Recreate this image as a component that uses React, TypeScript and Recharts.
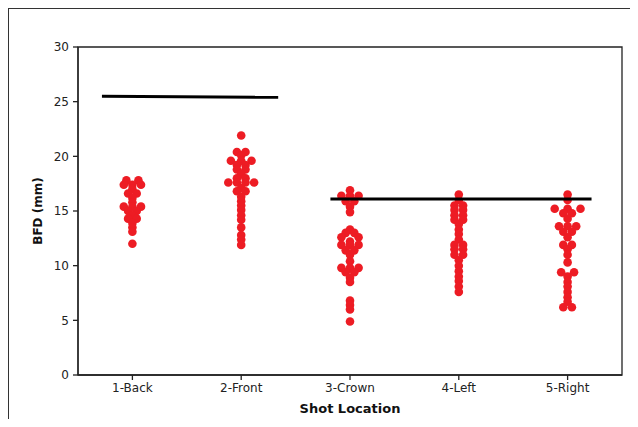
import React from 'react';
import { ScatterChart, Scatter, XAxis, YAxis, ReferenceArea } from 'recharts';

const categories = ['1-Back', '2-Front', '3-Crown', '4-Left', '5-Right'];
const yTicks = [0, 5, 10, 15, 20, 25, 30];

// BFD values (mm) per shot location, with swarm slot (ordinal side-by-side index)
const backValues = [17.8, 17.8, 17.4, 17.4, 17.4, 17.0, 16.6, 16.6, 16.2, 15.8, 15.4, 15.4, 15.4, 15.0, 15.0, 14.6, 14.3, 14.3, 13.9, 13.5, 13.1, 12.0];
const backSlots = [-1.4, 1.4, -2, 0, 2, 0, -1, 1, 0, 0, -2, 0, 2, -1, 1, 0, -1, 1, 0, 0, 0, 0];

const frontValues = [21.9, 20.4, 20.4, 20.1, 19.6, 19.6, 19.6, 19.2, 19.2, 18.8, 18.8, 18.4, 18.0, 18.0, 17.6, 17.6, 17.6, 17.6, 17.1, 16.8, 16.8, 16.3, 15.9, 15.5, 15.1, 14.6, 14.2, 13.5, 12.8, 12.4, 11.9];
const frontSlots = [0, -1, 1, 0, -2.4, 0, 2.4, -1, 1, -1, 1, 0, -1, 1, -3, -1, 1, 3, 0, -1, 1, 0, 0, 0, 0, 0, 0, 0, 0, 0, 0];

const crownValues = [16.9, 16.4, 16.4, 16.4, 15.9, 15.9, 15.4, 14.9, 13.3, 13.0, 13.0, 12.6, 12.6, 12.2, 11.9, 11.9, 11.9, 11.4, 11.4, 11.0, 10.4, 9.8, 9.8, 9.8, 9.4, 9.4, 8.9, 8.5, 6.8, 6.4, 6.0, 4.9];
const crownSlots = [0, -2, 0, 2, -1, 1, 0, 0, 0, -1, 1, -2, 2, 0, -2, 0, 2, -1, 1, 0, 0, -2, 0, 2, -1, 1, 0, 0, 0, 0, 0, 0];

const leftValues = [16.5, 16.0, 15.5, 15.5, 15.1, 15.1, 14.6, 14.6, 14.2, 14.2, 13.8, 13.3, 12.9, 12.4, 11.9, 11.9, 11.5, 11.5, 11.0, 11.0, 10.5, 10.0, 9.5, 9.0, 8.6, 8.1, 7.6];
const leftSlots = [0, 0, -1, 1, -1, 1, -1, 1, -1, 1, 0, 0, 0, 0, -1, 1, -1, 1, -1, 1, 0, 0, 0, 0, 0, 0, 0];

const rightValues = [16.5, 16.0, 15.2, 15.2, 15.2, 14.8, 14.8, 14.3, 13.6, 13.6, 13.6, 13.1, 13.1, 12.6, 11.9, 11.9, 11.5, 11.0, 10.3, 9.4, 9.4, 9.0, 8.5, 8.1, 7.6, 7.1, 6.7, 6.2, 6.2];
const rightSlots = [0, 0, -3, 0, 3, -1, 1, 0, -2, 0, 2, -1, 1, 0, -1, 1, 0, 0, 0, -1.5, 1.5, 0, 0, 0, 0, 0, 0, -1, 1];

// Mean lines (x in category units, y in mm)
const meanLineA = [{ x: 0.72, y: 25.5 }, { x: 2.34, y: 25.4 }];
const meanLineB = [{ x: 2.82, y: 16.1 }, { x: 5.22, y: 16.1 }];

const groups = [
  [backValues, backSlots],
  [frontValues, frontSlots],
  [crownValues, crownSlots],
  [leftValues, leftSlots],
  [rightValues, rightSlots],
];

const points = groups.flatMap(([vals, slots], gi) =>
  (vals as number[]).map((v, i) => ({ x: gi + 1, y: v, slot: (slots as number[])[i] }))
);

const SLOT_PX = 4.3;
const DOT_COLOR = '#ED1C24';
const FONT = '"DejaVu Sans", Verdana, sans-serif';
const AXIS = '#222';

const Dot = (props: any) => {
  const { cx, cy, payload } = props;
  if (cx == null || cy == null) return <g />;
  return <circle cx={cx + payload.slot * SLOT_PX} cy={cy} r={4.3} fill={DOT_COLOR} />;
};

const NoShape = () => <g />;

export default function App() {
  return (
    <div
      style={{
        width: 630,
        height: 411,
        borderTop: '1px solid #333',
        borderLeft: '1px solid #333',
        boxSizing: 'border-box',
        position: 'relative',
        overflow: 'hidden',
      }}
    >
      <ScatterChart width={629} height={410} margin={{ top: 38, right: 16, bottom: 0, left: 9 }}>
        <XAxis
          type="number"
          dataKey="x"
          domain={[0.5, 5.5]}
          ticks={[1, 2, 3, 4, 5]}
          tickFormatter={(v: number) => categories[v - 1]}
          height={44}
          stroke={AXIS}
          strokeWidth={1.3}
          tickSize={5}
          tickMargin={3}
          padding={{ left: 0, right: 0 }}
          tick={{ fill: '#222', fontSize: 12, fontFamily: FONT }}
          label={{
            value: 'Shot Location',
            position: 'insideBottom',
            offset: 6,
            style: { fill: '#111', fontSize: 13, fontWeight: 'bold', fontFamily: FONT },
          }}
        />
        <YAxis
          type="number"
          dataKey="y"
          domain={[0, 30]}
          ticks={yTicks}
          width={60}
          stroke={AXIS}
          strokeWidth={1.3}
          tickSize={5}
          tickMargin={4}
          tick={{ fill: '#222', fontSize: 12, fontFamily: FONT }}
          label={{
            value: 'BFD (mm)',
            angle: -90,
            position: 'insideLeft',
            offset: 20,
            style: { textAnchor: 'middle', fill: '#111', fontSize: 12, fontWeight: 'bold', fontFamily: FONT },
          }}
        />
        <ReferenceArea x1={0.5} x2={5.5} y1={0} y2={30} fill="none" fillOpacity={0} stroke={AXIS} strokeWidth={1.3} ifOverflow="visible" />
        <Scatter data={points} shape={Dot} isAnimationActive={false} />
        <Scatter data={meanLineA} line={{ stroke: '#000', strokeWidth: 3 }} shape={NoShape} isAnimationActive={false} />
        <Scatter data={meanLineB} line={{ stroke: '#000', strokeWidth: 3 }} shape={NoShape} isAnimationActive={false} />
      </ScatterChart>
    </div>
  );
}
